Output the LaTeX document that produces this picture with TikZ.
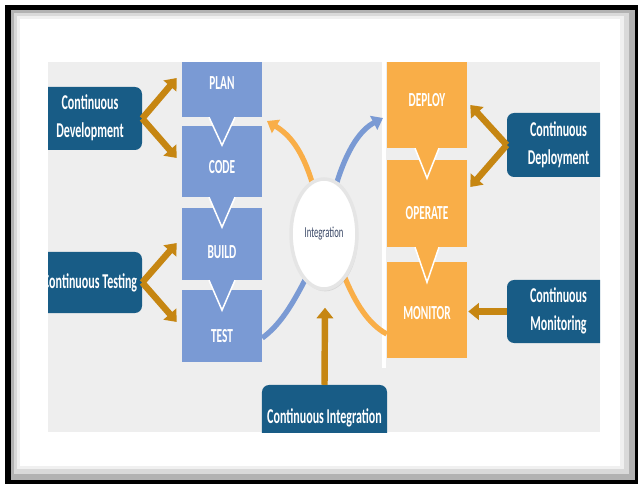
\documentclass[tikz,border=0pt]{standalone}
\usepackage{fontspec}
\setmainfont{Carlito}
\usepackage{graphicx}
\usetikzlibrary{arrows.meta}
\usetikzlibrary{shapes.geometric}
\usetikzlibrary{calc}
\usetikzlibrary{shadows}

\definecolor{panelgray}{RGB}{238,238,238}
\definecolor{colblue}{RGB}{122,154,212}
\definecolor{colorange}{RGB}{249,174,72}
\definecolor{boxblue}{RGB}{24,92,134}
\definecolor{arrowbrown}{RGB}{198,134,18}
\definecolor{intgray}{RGB}{60,74,104}

\newcommand{\sq}[1]{\scalebox{0.57}[1]{#1}}

\tikzset{
  stagebox/.style={minimum width=2.4cm, inner sep=0pt},
  stagetxt/.style={text=white, font=\bfseries\fontsize{17}{20}\selectfont},
  sidebox/.style={fill=boxblue, rounded corners=6pt, inner sep=0pt, text=white, font=\bfseries\fontsize{18}{23}\selectfont},
  feed/.style={-{Triangle[width=14pt,length=9pt]}, line width=5.5pt, arrowbrown},
  loopline/.style={line width=4.5pt},
  looparrow/.style={line width=4.5pt, -{Triangle[width=13pt,length=9pt]}},
}

\begin{document}
\begin{tikzpicture}[x=0.03cm,y=-0.03cm]
\useasboundingbox (0,0) rectangle (638,484);
\fill[white] (0,0) rectangle (638,484);
\fill[black] (5,5) rectangle (638,484);
\fill[gray!60] (11,10) rectangle (635,480);
\fill[gray!30] (14,13) rectangle (629,474);
\fill[gray!12] (17,16) rectangle (624,469);
\fill[white] (20,19) rectangle (620,466);

\begin{scope}
\clip (48,62) rectangle (600,432);
\fill[panelgray] (48,62) rectangle (600,432);
\fill[white] (382,62) rectangle (386,368);
\node[sidebox, minimum width=3.12cm, minimum height=1.89cm] (cdev) at (90,118.5)
  {\sq{\begin{tabular}{@{}c@{}}Continuous\\[1pt]Development\end{tabular}}};
\node[sidebox, minimum width=3.12cm, minimum height=1.83cm] (ctest) at (90,282.5)
  {\sq{Continuous Testing}};
\node[sidebox, minimum width=3.09cm, minimum height=1.92cm] (cdep) at (558.5,145)
  {\sq{\begin{tabular}{@{}c@{}}Continuous\\[1pt]Deployment\end{tabular}}};
\node[sidebox, minimum width=3.09cm, minimum height=1.89cm] (cmon) at (558.5,311.5)
  {\sq{\begin{tabular}{@{}c@{}}Continuous\\[1pt]Monitoring\end{tabular}}};
\node[sidebox, minimum width=3.75cm, minimum height=1.98cm] (cint) at (324.5,418)
  {\sq{Continuous Integration}};
\end{scope}

\node[stagebox, fill=colblue, minimum height=1.65cm] (plan) at (222,89.5) {};
\node[stagebox, fill=colblue, minimum height=2.13cm] (code) at (222,161.5) {};
\node[stagebox, fill=colblue, minimum height=2.16cm] (build) at (222,244) {};
\node[stagebox, fill=colblue, minimum height=2.16cm] (test) at (222,326) {};
\node[stagebox, fill=colorange, minimum height=2.58cm] (deploy) at (427,105) {};
\node[stagebox, fill=colorange, minimum height=2.61cm] (operate) at (427,203.5) {};
\node[stagebox, fill=colorange, minimum height=2.88cm] (monitor) at (427,310) {};

\path[fill=colblue, draw=white, line width=1.3pt] ($(plan.south)+(-13,0)$) -- ($(plan.south)+(0,28)$) -- ($(plan.south)+(13,0)$);
\path[fill=colblue, draw=white, line width=1.3pt] ($(code.south)+(-13,0)$) -- ($(code.south)+(0,30)$) -- ($(code.south)+(13,0)$);
\path[fill=colblue, draw=white, line width=1.3pt] ($(build.south)+(-13,0)$) -- ($(build.south)+(0,30)$) -- ($(build.south)+(13,0)$);
\path[fill=colorange, draw=white, line width=1.3pt] ($(deploy.south)+(-12,0)$) -- ($(deploy.south)+(0,30)$) -- ($(deploy.south)+(12,0)$);
\path[fill=colorange, draw=white, line width=1.3pt] ($(operate.south)+(-12,0)$) -- ($(operate.south)+(0,35)$) -- ($(operate.south)+(12,0)$);

\node[stagetxt] (plantxt) at (222,83) {\sq{PLAN}};
\node[stagetxt] (codetxt) at (222,167) {\sq{CODE}};
\node[stagetxt] (buildtxt) at (222,252) {\sq{BUILD}};
\node[stagetxt] (testtxt) at (222,336) {\sq{TEST}};
\node[stagetxt] (deploytxt) at (427,100) {\sq{DEPLOY}};
\node[stagetxt] (operatetxt) at (427,213) {\sq{OPERATE}};
\node[stagetxt] (monitortxt) at (427,313) {\sq{MONITOR}};

\coordinate (loopa) at (267,121);
\coordinate (loopb) at (383,118);
\draw[loopline, colblue] (305,280) .. controls (292,305) and (280,325) .. (test.east |- 0,338);
\draw[loopline, colorange] (345,278) .. controls (355,302) and (368,324) .. (monitor.west |- 0,334);
\draw[looparrow, colorange] (312,182) .. controls (302,150) and (290,135) .. (loopa);
\draw[looparrow, colblue] (337,182) .. controls (347,150) and (360,130) .. (loopb);

\node[ellipse, fill=white, draw=gray!20, line width=3pt, minimum width=1.62cm, minimum height=3.3cm,
  drop shadow={opacity=0.2, shadow xshift=1pt, shadow yshift=-2pt},
  text=intgray, font=\fontsize{13}{15}\selectfont] (integ) at (324,234) {\sq{Integration}};

\draw[feed] (cdev.east) -- ($(plan.west)+(-5,-11.5)$);
\draw[feed] (cdev.east) -- ($(code.west)+(-5,-3.5)$);
\draw[feed] (ctest.east) -- ($(build.west)+(-5,-1)$);
\draw[feed] (ctest.east) -- ($(test.west)+(-5,-4)$);
\draw[feed] (cdep.west) -- ($(deploy.east)+(3,0)$);
\draw[feed] (cdep.west) -- ($(operate.east)+(3,-16.5)$);
\draw[feed] (cmon.west) -- ($(monitor.east)+(1,1.5)$);
\draw[feed] (cint.north) -- ($(integ.south)+(1,17)$);
\end{tikzpicture}
\end{document}
